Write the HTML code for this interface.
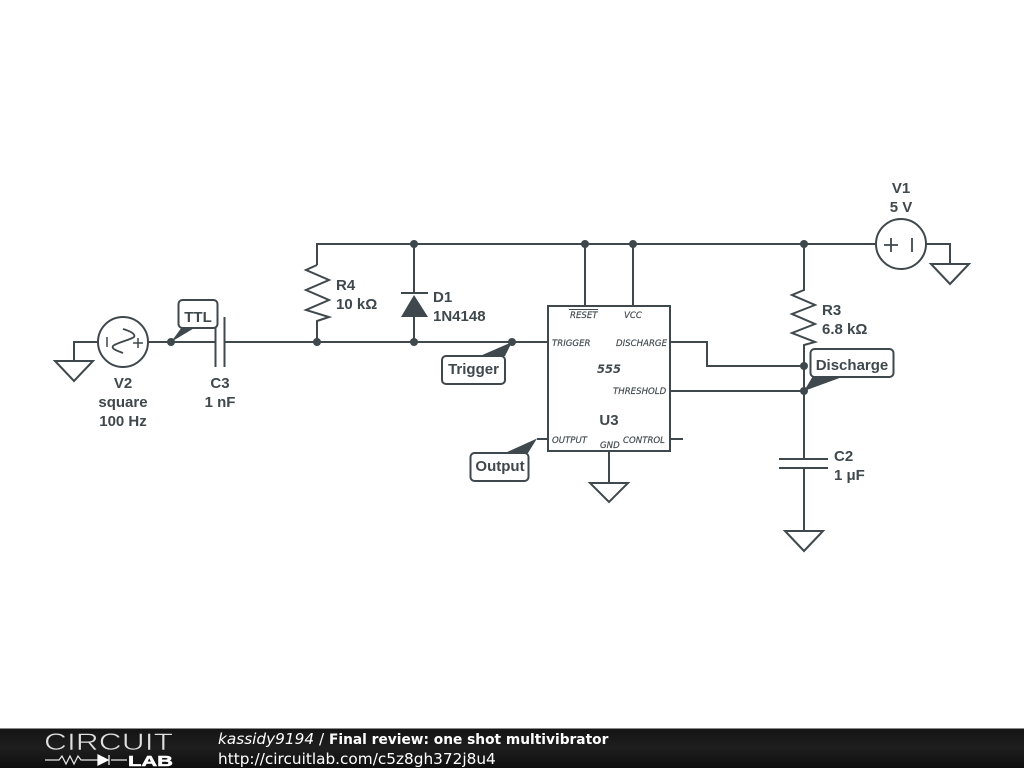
<!DOCTYPE html>
<html><head><meta charset="utf-8"><style>
html,body{margin:0;padding:0;background:#fff;width:1024px;height:768px;overflow:hidden}
svg{display:block}
.w{fill:none;stroke:#3f484d;stroke-width:2}
.t{font-family:"Liberation Sans",sans-serif;font-size:15px;font-weight:bold;fill:#3f484d;stroke:none}
.p{font-family:"DejaVu Sans",sans-serif;font-size:8.600px;font-style:italic;fill:#3f484d;stroke:#3f484d;stroke-width:.15}
.f{font-family:"DejaVu Sans",sans-serif;font-size:15.300px;fill:#fff}
</style></head><body>
<svg width="1024" height="768" viewBox="0 0 1024 768" xmlns="http://www.w3.org/2000/svg">
<defs><linearGradient id="g" x1="0" y1="0" x2="0" y2="1"><stop offset="0" stop-color="#141414"/><stop offset="0.5" stop-color="#1e1e1e"/><stop offset="1" stop-color="#0e0e0e"/></linearGradient></defs>
<rect width="1024" height="768" fill="#fff"/>
<g class="w">
<path d="M317 265V244H877"/>
<path d="M148 342H216M224 342H548"/>
<path d="M98 342H74V361"/>
<path d="M215.500 317V367M224.500 317V367"/>
<path d="M55 361H93L74 381Z"/>
<circle cx="123" cy="342" r="25"/>
<path d="M107 337V347M133 343H143M138 338V348" stroke-width="1.500"/>
<path d="M123 329C130 331 136 334 134 337C130 340 116 343 113 346C111 349 118 351 123 353" stroke-width="1.800"/>
<path d="M317 265L306 270L329 280L306 290L329 300L306 310L329 317L317 321V342"/>
<path d="M414 244V293M401 293H428M414 317V342"/>
<path d="M585 244V306M633 244V306"/>
<rect x="548" y="306" width="122" height="145"/>
<path d="M670 342H707V366H804M670 391H804M670 439H683M537 439H548"/>
<path d="M609 451V483M590 483H628L609 502Z"/>
<path d="M804 244V290L792 295L815 305L792 314L815 324L792 333L815 342L804 345V459"/>
<path d="M779 459H828M779 468H828M804 468V531"/>
<path d="M785 531H823L804 551Z"/>
<circle cx="901" cy="244" r="25"/>
<path d="M884 245H898M891 238V252M912 238V252" stroke-width="1.800"/>
<path d="M926 244H950V264M931 264H969L950 284Z"/>
</g>
<path d="M401 317H428L414 295Z" fill="#3f484d"/>
<g fill="#3f484d">
<circle cx="414" cy="244" r="4"/><circle cx="585" cy="244" r="4"/><circle cx="633" cy="244" r="4"/><circle cx="804" cy="244" r="4"/>
<circle cx="317" cy="342" r="4"/><circle cx="414" cy="342" r="4"/><circle cx="171" cy="342" r="4"/><circle cx="512" cy="342" r="4"/>
<circle cx="804" cy="366" r="4"/><circle cx="804" cy="391" r="4"/>
<path d="M171 342L182 327H196Z"/>
<path d="M512 342L480 356H505Z"/>
<path d="M537 438.500L505 453H528Z"/>
<path d="M804 391L813 376H845Z"/>
</g>
<g fill="#fff" stroke="#3f484d" stroke-width="2">
<rect x="178.500" y="300" width="39" height="28" rx="4"/>
<rect x="442" y="356" width="63" height="28" rx="4"/>
<rect x="470.500" y="453" width="58" height="28" rx="4"/>
<rect x="810.500" y="349" width="83" height="28" rx="4"/>
</g>
<g class="t" text-anchor="middle">
<text x="198" y="322">TTL</text>
<text x="473.500" y="374">Trigger</text>
<text x="500" y="471">Output</text>
<text x="852" y="370">Discharge</text>
<text x="123" y="388">V2</text><text x="123" y="407">square</text><text x="123" y="426">100 Hz</text>
<text x="220" y="388">C3</text><text x="220" y="407">1 nF</text>
<text x="901" y="193">V1</text><text x="901" y="212">5 V</text>
<text x="609" y="425">U3</text>
</g>
<g class="t">
<text x="336" y="290">R4</text><text x="336" y="309">10 kΩ</text>
<text x="433" y="302">D1</text><text x="433" y="321">1N4148</text>
<text x="822" y="315">R3</text><text x="822" y="334">6.8 kΩ</text>
<text x="834" y="461">C2</text><text x="834" y="480">1 μF</text>
</g>
<text x="609" y="373" text-anchor="middle" style="font-family:'DejaVu Sans',sans-serif;font-size:11.500px;font-weight:bold;font-style:italic;fill:#3f484d">555</text>
<g class="p">
<text x="570" y="318">RESET</text>
<text x="624" y="318">VCC</text>
<text x="552" y="346">TRIGGER</text>
<text x="616" y="346">DISCHARGE</text>
<text x="613" y="394">THRESHOLD</text>
<text x="552" y="443">OUTPUT</text>
<text x="600" y="448">GND</text>
<text x="623" y="443">CONTROL</text>
</g>
<path d="M569 309.500H598" stroke="#3f484d" stroke-width="1"/>
<rect x="0" y="728" width="1024" height="40" fill="url(#g)"/>
<rect x="0" y="728" width="1024" height="1" fill="#8a8a8a"/>
<text x="44" y="750" textLength="129" lengthAdjust="spacingAndGlyphs" style="font-family:'Liberation Sans',sans-serif;font-size:24px;fill:#e0e0e0;stroke:#1a1a1a;stroke-width:.6;paint-order:fill">CIRCUIT</text>
<path d="M45 760H59L62 756L66 764L70 756L74 764L78 756L81 760H98M111 760H127" fill="none" stroke="#e8e8e8" stroke-width="1.200"/>
<path d="M98 755V765L108 760ZM109 755V765" fill="#fff" stroke="#fff" stroke-width="1.200"/>
<text x="128" y="766" textLength="45" lengthAdjust="spacingAndGlyphs" style="font-family:'Liberation Sans',sans-serif;font-size:15px;font-weight:bold;fill:#fff;stroke:#fff;stroke-width:.5">LAB</text>
<text x="218" y="744" class="f" font-style="italic">kassidy9194</text>
<text x="319" y="744" class="f">/</text>
<text x="329" y="744" class="f" font-weight="bold" style="font-size:13.750px">Final review: one shot multivibrator</text>
<text x="218" y="764" class="f">http://circuitlab.com/c5z8gh372j8u4</text>
</svg>
</body></html>
